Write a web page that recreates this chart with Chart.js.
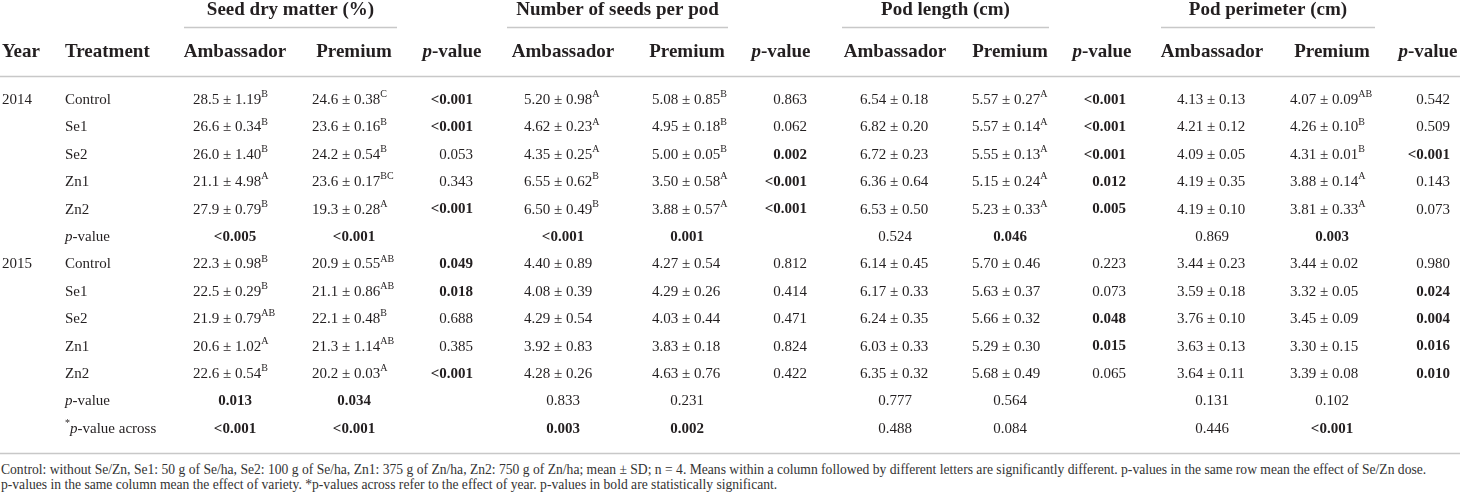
<!DOCTYPE html>
<html>
<head>
    <title>Seed dry matter and pod traits</title>
    <style>
        body {
            margin: 0;
            background: #fff;
            font-family: "Liberation Serif", serif;
        }
        #wrap {
            position: relative;
            width: 1460px;
            height: 462px;
        }
        .note {
            font-size: 13.6px;
            color: #333;
            line-height: 15px;
            white-space: nowrap;
            margin-left: 1px;
        }
    </style>
    <script src="https://cdn.jsdelivr.net/npm/chart.js"></script>
</head>
<body>
    <div id="wrap"><canvas id="tableChart"></canvas></div>
    <div id="notes"></div>

    <script>
        // ---- table content ----
        var groups = ['Seed dry matter (%)', 'Number of seeds per pod', 'Pod length (cm)', 'Pod perimeter (cm)'];
        var varieties = ['Ambassador', 'Premium'];
        var yearLabels = ['2014', '', '', '', '', '', '2015', '', '', '', '', '', ''];
        var rowLabels = ['Control', 'Se1', 'Se2', 'Zn1', 'Zn2', 'p-value',
            'Control', 'Se1', 'Se2', 'Zn1', 'Zn2', 'p-value', '*p-value across'];

        // rows: 2014 x5, p-value, 2015 x5, p-value, p-value across ("^" = letter superscript)
        var dryAmb = ['28.5 ± 1.19^B', '26.6 ± 0.34^B', '26.0 ± 1.40^B', '21.1 ± 4.98^A', '27.9 ± 0.79^B', '<0.005',
            '22.3 ± 0.98^B', '22.5 ± 0.29^B', '21.9 ± 0.79^AB', '20.6 ± 1.02^A', '22.6 ± 0.54^B', '0.013', '<0.001'];
        var dryPrem = ['24.6 ± 0.38^C', '23.6 ± 0.16^B', '24.2 ± 0.54^B', '23.6 ± 0.17^BC', '19.3 ± 0.28^A', '<0.001',
            '20.9 ± 0.55^AB', '21.1 ± 0.86^AB', '22.1 ± 0.48^B', '21.3 ± 1.14^AB', '20.2 ± 0.03^A', '0.034', '<0.001'];
        var dryP = ['<0.001', '<0.001', '0.053', '0.343', '<0.001', null,
            '0.049', '0.018', '0.688', '0.385', '<0.001', null, null];

        var seedsAmb = ['5.20 ± 0.98^A', '4.62 ± 0.23^A', '4.35 ± 0.25^A', '6.55 ± 0.62^B', '6.50 ± 0.49^B', '<0.001',
            '4.40 ± 0.89', '4.08 ± 0.39', '4.29 ± 0.54', '3.92 ± 0.83', '4.28 ± 0.26', '0.833', '0.003'];
        var seedsPrem = ['5.08 ± 0.85^B', '4.95 ± 0.18^B', '5.00 ± 0.05^B', '3.50 ± 0.58^A', '3.88 ± 0.57^A', '0.001',
            '4.27 ± 0.54', '4.29 ± 0.26', '4.03 ± 0.44', '3.83 ± 0.18', '4.63 ± 0.76', '0.231', '0.002'];
        var seedsP = ['0.863', '0.062', '0.002', '<0.001', '<0.001', null,
            '0.812', '0.414', '0.471', '0.824', '0.422', null, null];

        var lengthAmb = ['6.54 ± 0.18', '6.82 ± 0.20', '6.72 ± 0.23', '6.36 ± 0.64', '6.53 ± 0.50', '0.524',
            '6.14 ± 0.45', '6.17 ± 0.33', '6.24 ± 0.35', '6.03 ± 0.33', '6.35 ± 0.32', '0.777', '0.488'];
        var lengthPrem = ['5.57 ± 0.27^A', '5.57 ± 0.14^A', '5.55 ± 0.13^A', '5.15 ± 0.24^A', '5.23 ± 0.33^A', '0.046',
            '5.70 ± 0.46', '5.63 ± 0.37', '5.66 ± 0.32', '5.29 ± 0.30', '5.68 ± 0.49', '0.564', '0.084'];
        var lengthP = ['<0.001', '<0.001', '<0.001', '0.012', '0.005', null,
            '0.223', '0.073', '0.048', '0.015', '0.065', null, null];

        var perimAmb = ['4.13 ± 0.13', '4.21 ± 0.12', '4.09 ± 0.05', '4.19 ± 0.35', '4.19 ± 0.10', '0.869',
            '3.44 ± 0.23', '3.59 ± 0.18', '3.76 ± 0.10', '3.63 ± 0.13', '3.64 ± 0.11', '0.131', '0.446'];
        var perimPrem = ['4.07 ± 0.09^AB', '4.26 ± 0.10^B', '4.31 ± 0.01^B', '3.88 ± 0.14^A', '3.81 ± 0.33^A', '0.003',
            '3.44 ± 0.02', '3.32 ± 0.05', '3.45 ± 0.09', '3.30 ± 0.15', '3.39 ± 0.08', '0.102', '<0.001'];
        var perimP = ['0.542', '0.509', '<0.001', '0.143', '0.073', null,
            '0.980', '0.024', '0.004', '0.016', '0.010', null, null];

        var notes = [
            'Control: without Se/Zn, Se1: 50 g of Se/ha, Se2: 100 g of Se/ha, Zn1: 375 g of Zn/ha, Zn2: 750 g of Zn/ha; mean ± SD; n = 4. Means within a column followed by different letters are significantly different. p-values in the same row mean the effect of Se/Zn dose.',
            'p-values in the same column mean the effect of variety. *p-values across refer to the effect of year. p-values in bold are statistically significant.'
        ];

        var groupData = [
            [dryAmb, dryPrem, dryP],
            [seedsAmb, seedsPrem, seedsP],
            [lengthAmb, lengthPrem, lengthP],
            [perimAmb, perimPrem, perimP]
        ];

        // ---- layout (x in page px, y in row units) ----
        // amb/prem: [left edge of mean ± SD, header centre]; p: [right edge, header centre]
        var groupLayout = [
            { line: [184, 397], amb: [193, 235], prem: [312, 354], p: [473, 452] },
            { line: [507, 728], amb: [524, 563], prem: [652, 687], p: [807, 781] },
            { line: [842, 1049], amb: [860, 895], prem: [972, 1010], p: [1126, 1102] },
            { line: [1161, 1375], amb: [1177, 1212], prem: [1290, 1332], p: [1450, 1428] }
        ];
        var YEAR_X = 2, TREAT_X = 65;
        var ROW_GROUP = -3.28, RULE_GROUP = -2.66, ROW_HEAD = -1.75, RULE_HEAD = -0.86, RULE_BOTTOM = 12.88;
        var FONT = '"Liberation Serif", "Times New Roman", serif';
        var BODY = 15, HEAD = 19, SUP = 10;
        var INK = '#231f20', RULE = '#c8c8c8';

        function isSig(s) {
            return s.charAt(0) === '<' || parseFloat(s) < 0.05;
        }

        function pRow(i) {
            return i === 5 || i === 11 || i === 12;
        }

        // one scatter dataset per table column; the points carry the cell text
        var columns = [];
        columns.push({ texts: yearLabels, x: YEAR_X, kind: 'label' });
        columns.push({ texts: rowLabels, x: TREAT_X, kind: 'label' });
        groupData.forEach(function (g, gi) {
            var lay = groupLayout[gi];
            columns.push({ texts: g[0], x: lay.amb[0], cx: lay.amb[1], kind: 'value' });
            columns.push({ texts: g[1], x: lay.prem[0], cx: lay.prem[1], kind: 'value' });
            columns.push({ texts: g[2], x: lay.p[0], kind: 'p' });
        });

        var datasets = columns.map(function (col) {
            var pts = [];
            col.texts.forEach(function (t, i) {
                if (!t) return;
                // summary p-values in the variety columns sit centred under the header
                var x = (col.kind === 'value' && pRow(i)) ? col.cx : col.x;
                pts.push({ x: x, y: i, t: t, row: i });
            });
            return {
                data: pts,
                kind: col.kind,
                pointRadius: 0,
                pointHoverRadius: 0
            };
        });

        function font(size, bold, italic) {
            return (italic ? 'italic ' : '') + (bold ? 'bold ' : '') + size + 'px ' + FONT;
        }

        function cellParts(ds, pt) {
            var t = pt.t;
            if (ds.kind === 'label') {
                if (t === 'p-value') return [{ t: 'p', italic: true }, { t: '-value' }];
                if (t === '*p-value across') return [{ t: '*', sup: true }, { t: 'p', italic: true }, { t: '-value across' }];
                return [{ t: t }];
            }
            if (ds.kind === 'p' || pRow(pt.row)) return [{ t: t, bold: isSig(t) }];
            var bits = t.split('^');
            var parts = [{ t: bits[0] }];
            if (bits[1]) parts.push({ t: bits[1], sup: true });
            return parts;
        }

        function cellAlign(ds, pt) {
            if (ds.kind === 'p') return 'right';
            if (ds.kind === 'value' && pRow(pt.row)) return 'center';
            return 'left';
        }

        function drawParts(ctx, parts, x, y, align, size, bold) {
            var widths = parts.map(function (p) {
                ctx.font = font(p.sup ? SUP : size, bold || p.bold, p.italic);
                return ctx.measureText(p.t).width;
            });
            var total = widths.reduce(function (a, b) { return a + b; }, 0);
            var cx = x;
            if (align === 'center') cx = x - total / 2;
            if (align === 'right') cx = x - total;
            ctx.textAlign = 'left';
            ctx.textBaseline = 'middle';
            parts.forEach(function (p, i) {
                ctx.font = font(p.sup ? SUP : size, bold || p.bold, p.italic);
                ctx.fillText(p.t, cx, p.sup ? y - size * 0.36 : y);
                cx += widths[i];
            });
        }

        var tablePlugin = {
            id: 'tableText',
            afterDatasetsDraw: function (chart) {
                var ctx = chart.ctx;
                var xs = chart.scales.x, ys = chart.scales.y;
                ctx.save();
                ctx.fillStyle = INK;

                // rules
                ctx.strokeStyle = RULE;
                ctx.lineWidth = 1.5;
                function rule(x0, x1, r) {
                    var py = Math.round(ys.getPixelForValue(r)) + 0.5;
                    ctx.beginPath();
                    ctx.moveTo(xs.getPixelForValue(x0), py);
                    ctx.lineTo(xs.getPixelForValue(x1), py);
                    ctx.stroke();
                }
                groupLayout.forEach(function (lay) { rule(lay.line[0], lay.line[1], RULE_GROUP); });
                rule(0, 1460, RULE_HEAD);
                rule(0, 1460, RULE_BOTTOM);

                // group and column headers
                var gy = ys.getPixelForValue(ROW_GROUP), hy = ys.getPixelForValue(ROW_HEAD);
                groups.forEach(function (name, gi) {
                    var lay = groupLayout[gi];
                    drawParts(ctx, [{ t: name }], xs.getPixelForValue((lay.line[0] + lay.line[1]) / 2), gy, 'center', HEAD, true);
                    drawParts(ctx, [{ t: varieties[0] }], xs.getPixelForValue(lay.amb[1]), hy, 'center', HEAD, true);
                    drawParts(ctx, [{ t: varieties[1] }], xs.getPixelForValue(lay.prem[1]), hy, 'center', HEAD, true);
                    drawParts(ctx, [{ t: 'p', italic: true }, { t: '-value' }], xs.getPixelForValue(lay.p[1]), hy, 'center', HEAD, true);
                });
                drawParts(ctx, [{ t: 'Year' }], xs.getPixelForValue(YEAR_X), hy, 'left', HEAD, true);
                drawParts(ctx, [{ t: 'Treatment' }], xs.getPixelForValue(TREAT_X), hy, 'left', HEAD, true);

                // body cells, placed at the scatter points
                chart.data.datasets.forEach(function (ds, di) {
                    var meta = chart.getDatasetMeta(di);
                    meta.data.forEach(function (el, i) {
                        var pt = ds.data[i];
                        drawParts(ctx, cellParts(ds, pt), el.x, el.y, cellAlign(ds, pt), BODY, false);
                    });
                });
                ctx.restore();
            }
        };

        new Chart(document.getElementById('tableChart'), {
            type: 'scatter',
            data: { datasets: datasets },
            options: {
                responsive: true,
                maintainAspectRatio: false,
                animation: false,
                events: [],
                layout: { padding: 0 },
                plugins: { legend: { display: false }, tooltip: { enabled: false } },
                scales: {
                    x: { type: 'linear', min: 0, max: 1460, display: false },
                    y: { type: 'linear', reverse: true, min: -100 / 27.4, max: 362 / 27.4, display: false }
                }
            },
            plugins: [tablePlugin]
        });

        var box = document.getElementById('notes');
        notes.forEach(function (line) {
            var d = document.createElement('div');
            d.className = 'note';
            d.textContent = line;
            box.appendChild(d);
        });
    </script>
</body>
</html>
